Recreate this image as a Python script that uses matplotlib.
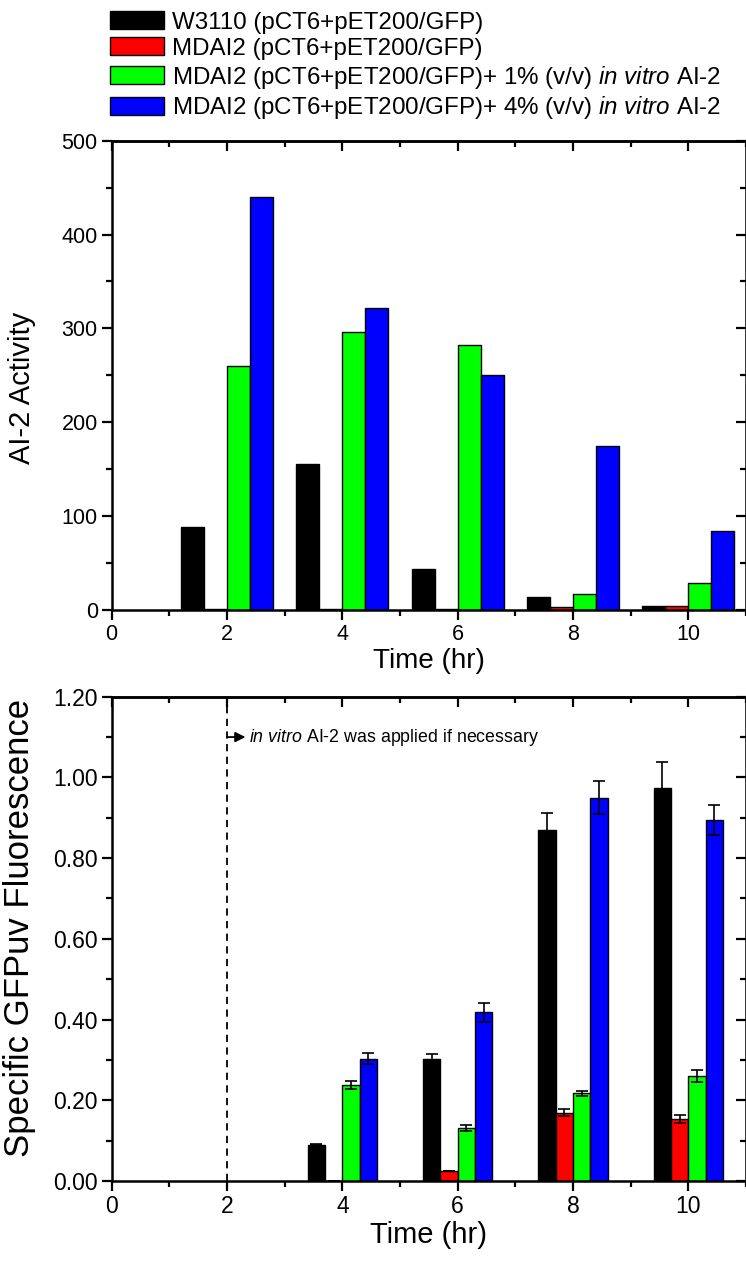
import matplotlib
matplotlib.use("Agg")
import matplotlib.pyplot as plt
from matplotlib.ticker import MultipleLocator, FormatStrFormatter

plt.rcParams['font.family'] = ['Liberation Sans', 'DejaVu Sans']
plt.rcParams['mathtext.fontset'] = 'custom'
plt.rcParams['mathtext.rm'] = 'Liberation Sans'
plt.rcParams['mathtext.it'] = 'Liberation Sans:italic'

# data
labels = ["W3110 (pCT6+pET200/GFP)",
          "MDAI2 (pCT6+pET200/GFP)",
          r"MDAI2 (pCT6+pET200/GFP)+ 1% (v/v) $\it{in\ vitro}$ AI-2",
          r"MDAI2 (pCT6+pET200/GFP)+ 4% (v/v) $\it{in\ vitro}$ AI-2"]
colors = ["#000000", "#ff0000", "#00ff00", "#0000ff"]

ai2_time = [2, 4, 6, 8, 10]
ai2_w3110 = [88, 156, 44, 14, 4.5]
ai2_mdai2 = [1, 1, 1, 3.5, 4]
ai2_1pct = [260, 296, 282, 17, 29]
ai2_4pct = [440, 322, 250, 175, 84]

gfp_time = [4, 6, 8, 10]
gfp_w3110 = [0.090, 0.302, 0.869, 0.975]
gfp_w3110_err = [0.002, 0.012, 0.042, 0.062]
gfp_mdai2 = [0.0, 0.025, 0.169, 0.154]
gfp_mdai2_err = [0.0, 0.0, 0.009, 0.010]
gfp_1pct = [0.237, 0.131, 0.217, 0.260]
gfp_1pct_err = [0.010, 0.007, 0.007, 0.014]
gfp_4pct = [0.303, 0.418, 0.950, 0.895]
gfp_4pct_err = [0.014, 0.024, 0.040, 0.037]

fig = plt.figure(figsize=(7.46, 12.64), dpi=100)
ax1 = fig.add_axes([0.1497, 0.5174, 0.8503, 0.3713])
ax2 = fig.add_axes([0.1497, 0.0657, 0.8503, 0.3831])

def style_axes(ax, ymax, ymajor, yminor, fmt, tsize, lsize):
    ax.set_xlim(0, 11)
    ax.set_ylim(0, ymax)
    ax.xaxis.set_major_locator(MultipleLocator(2))
    ax.xaxis.set_minor_locator(MultipleLocator(1))
    ax.yaxis.set_major_locator(MultipleLocator(ymajor))
    ax.yaxis.set_minor_locator(MultipleLocator(yminor))
    ax.yaxis.set_major_formatter(FormatStrFormatter(fmt))
    ax.tick_params(which='both', direction='out', width=1.6, labelsize=tsize, pad=3)
    ax.tick_params(which='major', length=7)
    ax.tick_params(which='minor', length=4)
    for s in ax.spines.values():
        s.set_linewidth(1.8)
    # Origin style: inward ticks on the top and right sides
    top = ax.secondary_xaxis('top')
    top.xaxis.set_major_locator(MultipleLocator(2))
    top.xaxis.set_minor_locator(MultipleLocator(1))
    top.tick_params(which='both', direction='in', width=1.6, labeltop=False)
    top.tick_params(which='major', length=7)
    top.tick_params(which='minor', length=4)
    top.spines['top'].set_linewidth(1.8)
    right = ax.secondary_yaxis('right')
    right.yaxis.set_major_locator(MultipleLocator(ymajor))
    right.yaxis.set_minor_locator(MultipleLocator(yminor))
    right.tick_params(which='both', direction='in', width=1.6, labelright=False)
    right.tick_params(which='major', length=7)
    right.tick_params(which='minor', length=4)
    ax.set_xlabel("Time (hr)", fontsize=lsize, labelpad=2)

# top panel: AI-2 activity
w = 0.4
series = [ai2_w3110, ai2_mdai2, ai2_1pct, ai2_4pct]
handles = []
for i, (vals, c) in enumerate(zip(series, colors)):
    xs = [t + (i - 1.5) * w for t in ai2_time]
    b = ax1.bar(xs, vals, width=w, color=c, edgecolor='black', linewidth=1.0)
    handles.append(b)
style_axes(ax1, 500, 100, 50, '%d', 15.5, 20)
ax1.set_ylabel("AI-2 Activity", fontsize=21)
ax1.yaxis.set_label_coords(-0.119, 0.474)

# bottom panel: specific fluorescence
w2 = 0.3
series2 = [(gfp_w3110, gfp_w3110_err), (gfp_mdai2, gfp_mdai2_err),
           (gfp_1pct, gfp_1pct_err), (gfp_4pct, gfp_4pct_err)]
for i, ((vals, err), c) in enumerate(zip(series2, colors)):
    xs = [t + (i - 1.5) * w2 for t in gfp_time]
    ax2.bar(xs, vals, width=w2, color=c, edgecolor='black', linewidth=1.0)
    ax2.errorbar(xs, vals, yerr=err, fmt='none', ecolor='black',
                 elinewidth=1.2, capsize=4.5, capthick=1.2)
style_axes(ax2, 1.2, 0.2, 0.1, '%.2f', 16.5, 21)
ax2.set_ylabel("Specific GFPuv Fluorescence", fontsize=25)
ax2.yaxis.set_label_coords(-0.119, 0.523)

ax2.plot([2, 2], [0, 1.18], ls=(0, (4, 3)), color='black', lw=1.3)
ax2.annotate('', xy=(2.32, 1.10), xytext=(2.0, 1.10),
             arrowprops=dict(arrowstyle='-|>', color='black', lw=1.3,
                             mutation_scale=15, shrinkA=0, shrinkB=0))
ax2.text(2.38, 1.10, r"$\it{in\ vitro}$ AI-2 was applied if necessary",
         fontsize=12.8, va='center', ha='left')

fig.legend(handles, labels, loc='upper left', bbox_to_anchor=(0.1479, 0.991),
           frameon=False, fontsize=17.4, handlelength=2.22, handleheight=0.74,
           handletextpad=0.33, labelspacing=0.16, borderpad=0, borderaxespad=0)

fig.savefig("out.png", dpi=100)
